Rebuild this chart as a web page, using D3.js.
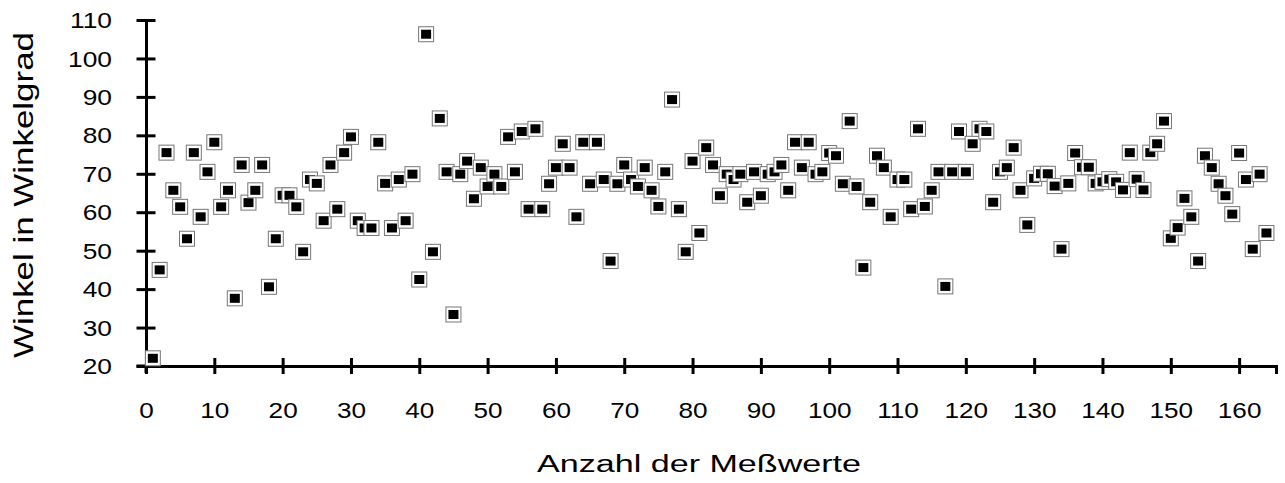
<!DOCTYPE html>
<html>
<head>
<meta charset="utf-8">
<script src="https://cdn.jsdelivr.net/npm/d3@7"></script>
<style>
  html, body { margin: 0; padding: 0; background: #fff; }
  svg { display: block; }
  text { font-family: "Liberation Sans", Arial, sans-serif; fill: #000; }
</style>
</head>
<body>
<svg id="chart" width="1285" height="483"></svg>
<script>
// Winkel (degrees) per Messwert, index 1..164
const angles = [
  22.0, 45.0, 75.5, 65.7, 61.4, 53.1, 75.5, 58.8, 70.5, 78.2,
  61.4, 65.7, 37.6, 72.3, 62.5, 65.7, 72.3, 40.6, 53.1, 64.4,
  64.4, 61.4, 49.7, 68.5, 67.5, 57.8, 72.3, 60.8, 75.5, 79.6,
  57.8, 55.9, 55.9, 78.2, 67.5, 55.9, 68.5, 57.8, 69.9, 42.5,
  106.3, 49.7, 84.4, 70.5, 33.4, 69.9, 73.3, 63.5, 71.6, 66.7,
  69.9, 66.7, 79.6, 70.5, 81.0, 60.8, 81.7, 60.8, 67.4, 71.6,
  77.8, 71.6, 58.8, 78.2, 67.4, 78.2, 68.5, 47.3, 67.4, 72.3,
  68.5, 66.7, 71.6, 65.7, 61.5, 70.5, 89.3, 60.8, 49.7, 73.3,
  54.6, 76.8, 72.3, 64.3, 69.9, 68.5, 69.9, 62.6, 70.5, 64.3,
  69.9, 70.5, 72.3, 65.7, 78.2, 71.6, 78.2, 69.9, 70.5, 75.4,
  74.7, 67.4, 83.7, 66.7, 45.6, 62.6, 74.7, 71.6, 58.8, 68.5,
  68.5, 60.8, 81.7, 61.5, 65.7, 70.5, 40.7, 70.5, 81.0, 70.5,
  77.8, 81.7, 81.0, 62.6, 70.5, 71.6, 76.8, 65.7, 56.7, 68.8,
  70.0, 70.0, 66.8, 50.4, 67.5, 75.4, 71.7, 71.7, 67.5, 67.9,
  68.6, 67.9, 65.8, 75.5, 68.6, 65.8, 75.5, 77.8, 83.7, 53.2,
  56.0, 63.6, 58.8, 47.3, 74.7, 71.6, 67.4, 64.3, 59.5, 75.4,
  68.5, 50.4, 69.9, 54.6
];
const measureIndex = angles.map((_, i) => i + 1);
const xTicks = [0, 10, 20, 30, 40, 50, 60, 70, 80, 90, 100, 110, 120, 130, 140, 150, 160];
const yTicks = [20, 30, 40, 50, 60, 70, 80, 90, 100, 110];
const xTitle = "Anzahl der Meßwerte";
const yTitle = "Winkel in Winkelgrad";

const svg = d3.select("#chart");

const x = d3.scaleLinear().domain([0, 165.4]).range([146, 1276]);
const y = d3.scaleLinear().domain([20, 110]).range([366, 20]);

function stretch(sel, factor) {
  sel.each(function () {
    const w = this.getComputedTextLength();
    d3.select(this).attr("textLength", w * factor).attr("lengthAdjust", "spacingAndGlyphs");
  });
}

// X axis
const gx = svg.append("g").attr("transform", `translate(0,${y(20)})`)
  .call(d3.axisBottom(x).tickValues(xTicks).tickSizeOuter(0).tickSize(8));
gx.select(".domain").attr("stroke", "#000").attr("stroke-width", 3);
gx.selectAll(".tick line").attr("stroke", "#000").attr("stroke-width", 3).attr("y1", -8).attr("y2", 8);
gx.selectAll(".tick text").attr("y", 52).attr("dy", 0)
  .style("font-size", "22.5px").style("font-family", '"Liberation Sans", Arial, sans-serif').attr("fill", "#000");
stretch(gx.selectAll(".tick text"), 1.16);

// Y axis
const gy = svg.append("g").attr("transform", `translate(${x(0)},0)`)
  .call(d3.axisLeft(y).tickValues(yTicks).tickSizeOuter(0).tickSize(9));
gy.select(".domain").attr("stroke", "#000").attr("stroke-width", 3);
gy.selectAll(".tick line").attr("stroke", "#000").attr("stroke-width", 3).attr("x1", -9.5).attr("x2", 9.5);
gy.selectAll(".tick text").attr("x", -34).attr("dy", "0.34em")
  .style("font-size", "22.5px").style("font-family", '"Liberation Sans", Arial, sans-serif').attr("fill", "#000");
stretch(gy.selectAll(".tick text"), 1.17);
// extend y axis a little below the x axis, like the reference
gy.append("line").attr("x1", 0).attr("x2", 0).attr("y1", y(20)).attr("y2", y(20) + 7)
  .attr("stroke", "#000").attr("stroke-width", 3);
gx.append("line").attr("x1", x(0) - 9.5).attr("x2", x(0)).attr("y1", 0).attr("y2", 0)
  .attr("stroke", "#000").attr("stroke-width", 3);

// Points
const pts = svg.append("g");
const data = measureIndex.map((n, i) => ({ n, v: angles[i] }));
const mk = pts.selectAll("g.pt").data(data).join("g").attr("class", "pt")
  .attr("transform", d => `translate(${x(d.n)},${y(d.v)})`);
mk.append("rect").attr("x", -7.5).attr("y", -7.5).attr("width", 15).attr("height", 15)
  .attr("fill", "#fff").attr("stroke", "#777").attr("stroke-width", 1);
mk.append("rect").attr("x", -5).attr("y", -4.5).attr("width", 10).attr("height", 9)
  .attr("fill", "#000");

// Titles
const xt = svg.append("text").attr("x", 699).attr("y", 472).attr("text-anchor", "middle")
  .style("font-size", "23.5px").text(xTitle);
xt.attr("textLength", 324).attr("lengthAdjust", "spacingAndGlyphs");

const yt = svg.append("text").attr("transform", "translate(33,195) rotate(-90)")
  .attr("text-anchor", "middle").style("font-size", "28px").text(yTitle);
yt.attr("textLength", 326).attr("lengthAdjust", "spacingAndGlyphs");
</script>
</body>
</html>
